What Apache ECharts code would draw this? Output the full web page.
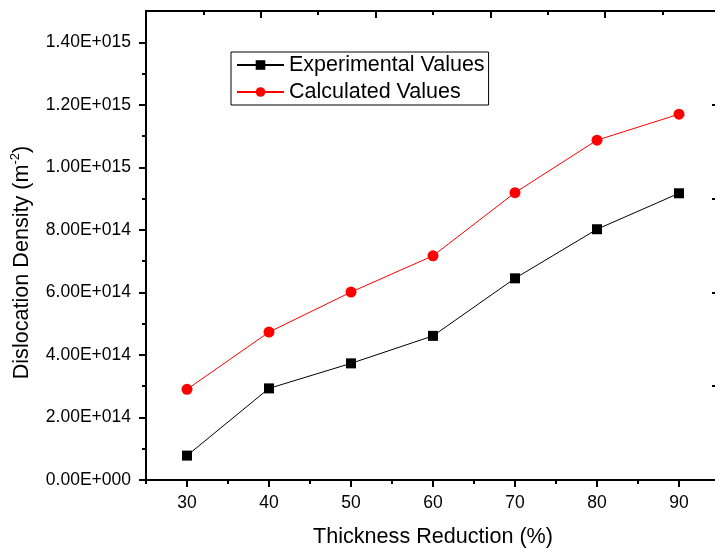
<!DOCTYPE html>
<html>
<head>
<meta charset="utf-8">
<script src="https://cdn.jsdelivr.net/npm/echarts@6/dist/echarts.min.js"></script>
<style>html,body{margin:0;padding:0;background:#fff}#c{width:715px;height:548px}</style>
</head>
<body>
<div id="c"></div>
<script>
// ---- data ----
const thickness = [30, 40, 50, 60, 70, 80, 90];
const experimental = [7.8e13, 2.93e14, 3.73e14, 4.61e14, 6.45e14, 8.02e14, 9.17e14];
const calculated = [2.90e14, 4.73e14, 6.01e14, 7.17e14, 9.19e14, 1.087e15, 1.170e15];
const xTicks = [30, 40, 50, 60, 70, 80, 90];
const xMinorTicks = [25, 35, 45, 55, 65, 75, 85, 95];
const yTicks = [0, 2e14, 4e14, 6e14, 8e14, 1.0e15, 1.2e15, 1.4e15];
const yMinorTicks = [1e14, 3e14, 5e14, 7e14, 9e14, 1.1e15, 1.3e15];

const FONT = 'Liberation Sans, Arial, sans-serif';
function fmt(v) {
  if (v === 0) return '0.00E+000';
  const e = Math.floor(Math.log10(v) + 1e-9);
  const m = v / Math.pow(10, e);
  return m.toFixed(2) + 'E+' + String(e).padStart(3, '0');
}
const axLine = { show: true, onZero: false, lineStyle: { color: '#000', width: 2 } };
const noLine = { show: false, onZero: false };

const chart = echarts.init(document.getElementById('c'), null, { renderer: 'canvas' });
chart.setOption({
  animation: false,
  backgroundColor: '#fff',
  textStyle: { fontFamily: FONT },
  grid: { left: 146, right: -5, top: 11, bottom: 68, containLabel: false, outerBoundsMode: 'none' },
  legend: {
    orient: 'vertical',
    left: 231, top: 52,
    padding: [2, 4, 2, 5],
    itemGap: 5,
    itemWidth: 47, itemHeight: 12,
    borderColor: '#000', borderWidth: 1,
    textStyle: { fontSize: 21.5, color: '#000', fontFamily: FONT, lineHeight: 22 },
    data: ['Experimental Values', 'Calculated Values']
  },
  xAxis: [
    {
      type: 'value', position: 'bottom', min: 25, max: 95,
      axisLine: axLine,
      axisTick: { show: true, inside: false, length: 7, customValues: xTicks, lineStyle: { color: '#000', width: 2 } },
      axisLabel: { show: true, customValues: xTicks, margin: 14, fontSize: 17.5, color: '#000', fontFamily: FONT },
      splitLine: { show: false },
      name: 'Thickness Reduction (%)', nameLocation: 'middle', nameGap: 46,
      nameTextStyle: { fontSize: 21.6, color: '#000', fontFamily: FONT }
    },
    {
      type: 'value', position: 'bottom', min: 25, max: 95,
      axisLine: noLine,
      axisTick: { show: true, inside: false, length: 4, customValues: xMinorTicks, lineStyle: { color: '#000', width: 2 } },
      axisLabel: { show: false }, splitLine: { show: false }
    },
    {
      type: 'value', position: 'top', min: 0, max: 10, interval: 2,
      axisLine: axLine,
      axisTick: { show: true, inside: true, length: 7, lineStyle: { color: '#000', width: 2 } },
      minorTick: { show: true, splitNumber: 2, length: 4, lineStyle: { color: '#000', width: 2 } },
      axisLabel: { show: false }, splitLine: { show: false }, minorSplitLine: { show: false }
    }
  ],
  yAxis: [
    {
      type: 'value', position: 'left', min: 0, max: 1.5e15,
      axisLine: axLine,
      axisTick: { show: true, inside: false, length: 7, customValues: yTicks, lineStyle: { color: '#000', width: 2 } },
      axisLabel: { show: true, customValues: yTicks, formatter: fmt, margin: 15, fontSize: 17.5, color: '#000', fontFamily: FONT },
      splitLine: { show: false },
      name: '{a|Dislocation Density (m}{s|-2}{a|)}', nameLocation: 'middle', nameGap: 113,
      nameTextStyle: {
        color: '#000', fontFamily: FONT,
        padding: [0, 34, 0, 0],
        rich: {
          a: { fontSize: 21.6, color: '#000', fontFamily: FONT, lineHeight: 24, verticalAlign: 'bottom' },
          s: { fontSize: 13, color: '#000', fontFamily: FONT, lineHeight: 24, verticalAlign: 'top', padding: [0, 0, 8, 0] }
        }
      }
    },
    {
      type: 'value', position: 'left', min: 0, max: 1.5e15,
      axisLine: noLine,
      axisTick: { show: true, inside: false, length: 4, customValues: yMinorTicks, lineStyle: { color: '#000', width: 2 } },
      axisLabel: { show: false }, splitLine: { show: false }
    },
    {
      type: 'value', position: 'right', min: 0, max: 5, interval: 1,
      axisLine: axLine,
      axisTick: { show: true, inside: true, length: 8, lineStyle: { color: '#000', width: 2 } },
      axisLabel: { show: false }, splitLine: { show: false }
    }
  ],
  series: [
    {
      name: 'Experimental Values', type: 'line', xAxisIndex: 0, yAxisIndex: 0,
      data: thickness.map((x, i) => [x, experimental[i]]),
      symbol: 'rect', symbolSize: 10,
      lineStyle: { color: '#000', width: 1 },
      itemStyle: { color: '#000' }
    },
    {
      name: 'Calculated Values', type: 'line', xAxisIndex: 0, yAxisIndex: 0,
      data: thickness.map((x, i) => [x, calculated[i]]),
      symbol: 'circle', symbolSize: 11,
      lineStyle: { color: '#ff0000', width: 1 },
      itemStyle: { color: '#ff0000' }
    }
  ]
});
</script>
</body>
</html>
